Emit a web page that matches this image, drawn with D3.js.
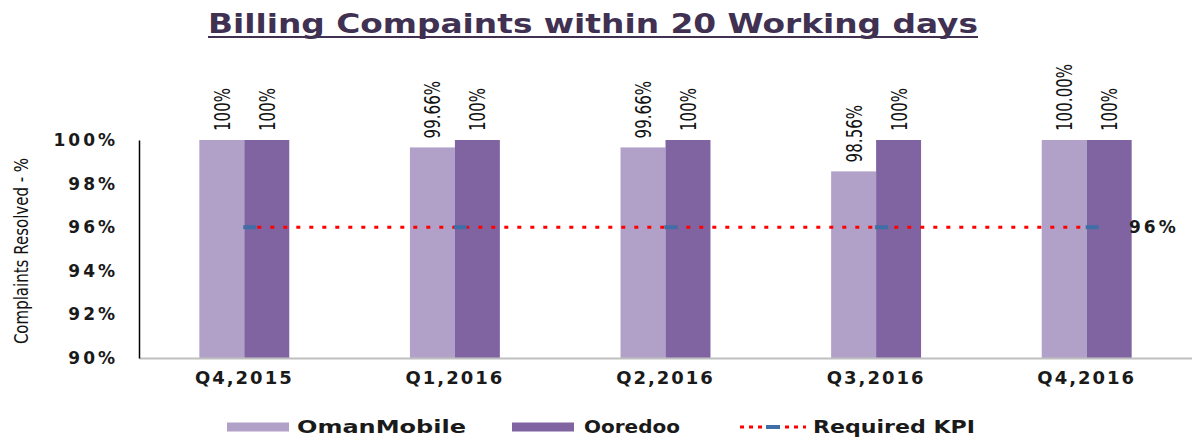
<!DOCTYPE html>
<html>
<head>
<meta charset="utf-8">
<script src="https://cdn.jsdelivr.net/npm/d3@7"></script>
<style>
  body { margin: 0; background: #fff; }
  svg { display: block; }
</style>
</head>
<body>
<svg id="chart" width="1192" height="437"></svg>
<script>
// Data
const quarters = ["Q4,2015", "Q1,2016", "Q2,2016", "Q3,2016", "Q4,2016"];
const seriesNames = ["OmanMobile", "Ooredoo"];
const omanMobile = [100, 99.66, 99.66, 98.56, 100];
const ooredoo = [100, 100, 100, 100, 100];
const omanLabels = ["100%", "99.66%", "99.66%", "98.56%", "100.00%"];
const ooredooLabels = ["100%", "100%", "100%", "100%", "100%"];
const requiredKpi = [96, 96, 96, 96, 96];
const yTicks = [90, 92, 94, 96, 98, 100];

const colors = { OmanMobile: "#b1a0c7", Ooredoo: "#8064a2" };
const gothic = "'DejaVu Sans', Verdana, sans-serif";

const svg = d3.select("#chart");
const margin = { top: 140, right: 0, bottom: 79, left: 139 };
const width = 1192, height = 437;

const x = d3.scaleBand()
  .domain(quarters)
  .range([margin.left, width])
  .paddingInner(0.573)
  .paddingOuter(0.2865);

const xSub = d3.scaleBand()
  .domain(seriesNames)
  .range([0, x.bandwidth()]);

const y = d3.scaleLinear()
  .domain([90, 100])
  .range([height - margin.bottom, margin.top]);

// Title
svg.append("text")
  .attr("x", 593)
  .attr("y", 33)
  .attr("text-anchor", "middle")
  .attr("font-family", gothic)
  .attr("font-weight", "bold")
  .attr("font-size", "27px")
  .attr("fill", "#403152")
  .attr("textLength", 770)
  .attr("lengthAdjust", "spacingAndGlyphs")
  .text("Billing Compaints within 20 Working days");

svg.append("line")
  .attr("x1", 208).attr("x2", 978)
  .attr("y1", 37).attr("y2", 37)
  .attr("stroke", "#403152")
  .attr("stroke-width", 2);

// Bars
const rows = quarters.map((q, i) => ({
  q,
  vals: [
    { key: "OmanMobile", v: omanMobile[i], label: omanLabels[i] },
    { key: "Ooredoo", v: ooredoo[i], label: ooredooLabels[i] }
  ]
}));

const groups = svg.append("g").selectAll("g")
  .data(rows)
  .enter()
  .append("g")
  .attr("transform", d => `translate(${x(d.q)},0)`);

groups.selectAll("rect")
  .data(d => d.vals)
  .enter()
  .append("rect")
  .attr("x", d => xSub(d.key))
  .attr("y", d => y(d.v))
  .attr("width", xSub.bandwidth())
  .attr("height", d => y(90) - y(d.v))
  .attr("fill", d => colors[d.key]);

// Value labels (rotated, squeezed to look condensed)
groups.selectAll("text")
  .data(d => d.vals)
  .enter()
  .append("text")
  .attr("transform", d => `translate(${xSub(d.key) + xSub.bandwidth() / 2 + 8},${y(d.v) - 9}) rotate(-90) scale(0.72,1)`)
  .attr("font-family", gothic)
  .attr("font-size", "21px")
  .attr("fill", "#111")
  .text(d => d.label);

// Axes
const yAxis = svg.append("g")
  .attr("transform", `translate(${margin.left},0)`)
  .call(d3.axisLeft(y).tickValues(yTicks).tickSize(0).tickPadding(24).tickFormat(d => d + "%"));
yAxis.select(".domain").attr("stroke", "#000").attr("stroke-width", 1.5);
yAxis.selectAll("text")
  .attr("font-family", gothic)
  .attr("font-weight", "bold")
  .attr("font-size", "17px")
  .attr("letter-spacing", "3px")
  .attr("dx", "3px")
  .attr("fill", "#1a1a1a");

const xAxis = svg.append("g")
  .attr("transform", `translate(0,${y(90)})`)
  .call(d3.axisBottom(x).tickSize(0).tickPadding(13));
xAxis.select(".domain").attr("stroke", "#bfbfbf").attr("stroke-width", 2);
xAxis.selectAll("text")
  .attr("font-family", gothic)
  .attr("font-weight", "bold")
  .attr("font-size", "18px")
  .attr("letter-spacing", "2px")
  .attr("fill", "#1a1a1a");
yAxis.raise();

svg.append("text")
  .attr("transform", `translate(28,${(y(90) + y(100)) / 2 + 2}) rotate(-90) scale(0.79,1)`)
  .attr("text-anchor", "middle")
  .attr("font-family", gothic)
  .attr("font-size", "19px")
  .attr("fill", "#111")
  .text("Complaints Resolved - %");

// Required KPI line
const kpiPts = quarters.map((q, i) => [x(q) + x.bandwidth() / 2, y(requiredKpi[i])]);
svg.append("path")
  .attr("d", d3.line()(kpiPts))
  .attr("fill", "none")
  .attr("stroke", "#ff0000")
  .attr("stroke-width", 3)
  .attr("stroke-dasharray", "4,9");

svg.append("g").selectAll("rect")
  .data(kpiPts)
  .enter()
  .append("rect")
  .attr("x", d => d[0] - 1)
  .attr("y", d => d[1] - 2)
  .attr("width", 13)
  .attr("height", 4)
  .attr("fill", "#3f6fa6");

svg.append("text")
  .attr("x", 1129)
  .attr("y", y(requiredKpi[4]) + 6)
  .attr("font-family", gothic)
  .attr("font-weight", "bold")
  .attr("font-size", "17px")
  .attr("letter-spacing", "3px")
  .attr("fill", "#1a1a1a")
  .text(requiredKpi[4] + "%");

// Legend
const legendY = 427;
const legendItems = [
  { name: "OmanMobile", x: 227, tx: 297, tw: 169 },
  { name: "Ooredoo", x: 512, tx: 584, tw: 96 },
  { name: "Required KPI", x: 740, tx: 813, tw: 162 }
];
const legend = svg.append("g");
legendItems.forEach(d => {
  if (d.name === "Required KPI") {
    legend.append("line")
      .attr("x1", d.x).attr("x2", d.x + 66)
      .attr("y1", legendY).attr("y2", legendY)
      .attr("stroke", "#ff0000").attr("stroke-width", 3)
      .attr("stroke-dasharray", "4,5");
    legend.append("rect")
      .attr("x", d.x + 26).attr("y", legendY - 2)
      .attr("width", 14).attr("height", 4)
      .attr("fill", "#3f6fa6");
  } else {
    legend.append("rect")
      .attr("x", d.x).attr("y", legendY - 4.5)
      .attr("width", 62).attr("height", 9)
      .attr("fill", colors[d.name]);
  }
  legend.append("text")
    .attr("x", d.tx)
    .attr("y", legendY + 6)
    .attr("font-family", gothic)
    .attr("font-weight", "bold")
    .attr("font-size", "18px")
    .attr("fill", "#1a1a1a")
    .attr("textLength", d.tw)
    .attr("lengthAdjust", "spacingAndGlyphs")
    .text(d.name);
});
</script>
</body>
</html>
